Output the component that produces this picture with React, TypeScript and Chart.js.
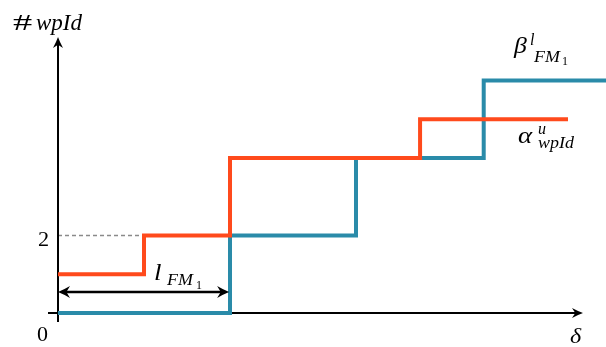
import React, { useEffect, useRef } from "react";
import { Chart, registerables } from "chart.js";

Chart.register(...registerables);

// Step function data (x in δ units, y in #wpId units)
const alphaX = [0, 2, 4, 8.42, 11.86];
const alphaY = [1, 2, 4, 5, 5];
const betaX = [0, 4, 6.93, 9.9, 12.75];
const betaY = [0, 2, 4, 6, 6];
const yTickValues = [2];
const yTickLabels = ["2"];
const originLabel = "0";
const lFM1Range = [0, 3.98];

const ORANGE = "#FF4A1C";
const BLUE = "#2A8BA9";
const SERIF = '"Liberation Serif", "DejaVu Serif", serif';

function arrowHead(ctx: CanvasRenderingContext2D, x: number, y: number, angle: number, len = 10, half = 5) {
  ctx.save();
  ctx.translate(x, y);
  ctx.rotate(angle);
  ctx.beginPath();
  ctx.moveTo(0, 0);
  ctx.quadraticCurveTo(-len * 0.45, -half * 0.35, -len, -half);
  ctx.lineTo(-len * 0.7, 0);
  ctx.lineTo(-len, half);
  ctx.quadraticCurveTo(-len * 0.45, half * 0.35, 0, 0);
  ctx.closePath();
  ctx.fill();
  ctx.restore();
}

// draw text starting at x (left), on baseline y, horizontally fitted (within limits) to width w
function fit(ctx: CanvasRenderingContext2D, s: string, x: number, y: number, size: number, italic: boolean, w: number, lo = 0.9, hi = 1.12) {
  ctx.save();
  ctx.font = `${italic ? "italic " : ""}${size}px ${SERIF}`;
  ctx.textAlign = "left";
  ctx.textBaseline = "alphabetic";
  const m = ctx.measureText(s);
  const left = m.actualBoundingBoxLeft || 0;
  const inkW = (m.actualBoundingBoxRight || m.width) + left;
  let sx = inkW > 0 ? w / inkW : 1;
  sx = Math.max(lo, Math.min(hi, sx));
  ctx.translate(x, y);
  ctx.scale(sx, 1);
  ctx.fillText(s, left, 0);
  ctx.restore();
}

const axesPlugin = {
  id: "axesPlugin",
  beforeDatasetsDraw(chart: any) {
    const ctx = chart.ctx as CanvasRenderingContext2D;
    const xs = chart.scales.x;
    const ys = chart.scales.y;
    const x0 = xs.getPixelForValue(0);
    const y0 = ys.getPixelForValue(0);
    ctx.save();
    // dashed guide at y=2
    ctx.strokeStyle = "#8a8a8a";
    ctx.lineWidth = 1.3;
    ctx.setLineDash([4, 3]);
    const y2 = ys.getPixelForValue(yTickValues[0]);
    ctx.beginPath();
    ctx.moveTo(x0, y2);
    ctx.lineTo(xs.getPixelForValue(alphaX[1]), y2);
    ctx.stroke();
    ctx.setLineDash([]);
    // axes
    ctx.strokeStyle = "#000";
    ctx.fillStyle = "#000";
    ctx.lineWidth = 2;
    ctx.beginPath();
    ctx.moveTo(x0, y0 + 9);
    ctx.lineTo(x0, 44);
    ctx.stroke();
    arrowHead(ctx, x0, 37, -Math.PI / 2, 11, 5);
    ctx.beginPath();
    ctx.moveTo(x0 - 10, y0);
    ctx.lineTo(576, y0);
    ctx.stroke();
    arrowHead(ctx, 583, y0, 0, 11, 5);
    ctx.restore();
  },
  afterDraw(chart: any) {
    const ctx = chart.ctx as CanvasRenderingContext2D;
    const xs = chart.scales.x;
    const ys = chart.scales.y;
    const x0 = xs.getPixelForValue(0);
    const y0 = ys.getPixelForValue(0);
    ctx.save();
    ctx.fillStyle = "#000";
    ctx.strokeStyle = "#000";
    // y axis title #wpId
    fit(ctx, "#", 13, 30, 24, false, 21, 0.9, 1.6);
    fit(ctx, "wpId", 36, 30, 24, true, 47);
    // tick labels
    yTickValues.forEach((v, i) => {
      fit(ctx, yTickLabels[i], x0 - 20, ys.getPixelForValue(v) + 10, 20, false, 10);
    });
    fit(ctx, originLabel, x0 - 21, y0 + 28, 20, false, 11);
    fit(ctx, "δ", 570, y0 + 30, 22, true, 12);
    // beta label
    fit(ctx, "β", 513, 53, 23, true, 15);
    fit(ctx, "l", 530, 45, 16, true, 5);
    fit(ctx, "FM", 533, 62, 16, true, 29);
    fit(ctx, "1", 563, 65, 12, false, 5);
    // alpha label
    fit(ctx, "α", 518, 143, 24, true, 19);
    fit(ctx, "u", 538, 134, 16, true, 8);
    fit(ctx, "wpId", 538, 148, 16, true, 44);
    // l_FM1
    fit(ctx, "l", 155, 280, 24, true, 7);
    fit(ctx, "FM", 166, 285, 16, true, 30);
    fit(ctx, "1", 197, 289, 12, false, 5);
    // double arrow
    const ay = y0 - 21;
    const ax1 = xs.getPixelForValue(lFM1Range[0]);
    const ax2 = xs.getPixelForValue(lFM1Range[1]);
    ctx.lineWidth = 2.5;
    ctx.beginPath();
    ctx.moveTo(ax1 + 5, ay);
    ctx.lineTo(ax2 - 5, ay);
    ctx.stroke();
    arrowHead(ctx, ax1, ay, Math.PI, 12, 6);
    arrowHead(ctx, ax2, ay, 0, 12, 6);
    ctx.restore();
  },
};

export default function App() {
  const ref = useRef<HTMLCanvasElement>(null);
  useEffect(() => {
    if (!ref.current) return;
    const chart = new Chart(ref.current, {
      type: "line",
      data: {
        datasets: [
          {
            label: "alpha",
            data: alphaX.map((x, i) => ({ x, y: alphaY[i] })),
            borderColor: ORANGE,
            borderWidth: 4,
            stepped: "before",
            pointRadius: 0,
            fill: false,
            order: 0,
            borderCapStyle: "butt",
            borderJoinStyle: "miter",
          },
          {
            label: "beta",
            data: betaX.map((x, i) => ({ x, y: betaY[i] })),
            borderColor: BLUE,
            borderWidth: 4,
            stepped: "before",
            pointRadius: 0,
            fill: false,
            order: 1,
            borderCapStyle: "butt",
            borderJoinStyle: "miter",
          },
        ],
      },
      options: {
        animation: false,
        responsive: false,
        devicePixelRatio: 1,
        layout: { padding: 0 },
        plugins: { legend: { display: false }, tooltip: { enabled: false } },
        scales: {
          x: { type: "linear", min: -1.349, max: 12.744, display: false },
          y: { type: "linear", min: -0.877, max: 8.077, display: false },
        },
      },
      plugins: [axesPlugin],
    } as any);
    return () => chart.destroy();
  }, []);
  return (
    <div style={{ position: "absolute", left: 0, top: 0, width: 606, height: 347, background: "#fff" }}>
      <canvas ref={ref} width={606} height={347} />
    </div>
  );
}
